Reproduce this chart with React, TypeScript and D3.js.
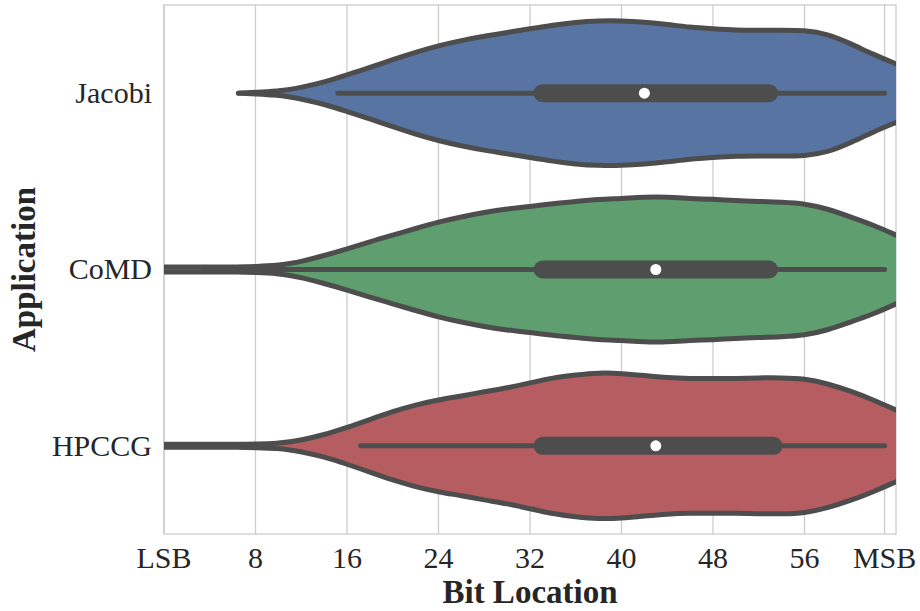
import React from "react";
import * as d3 from "d3";

// Applications shown on the vertical (categorical) axis, top to bottom
const applications = ["Jacobi", "CoMD", "HPCCG"];
const fills = ["#5874a3", "#5f9e6e", "#b55d60"];

// Bit positions where the kernel density estimates are sampled
const bitGrid = [0, 4, 6.5, 8, 10, 11, 12, 14, 16, 18, 20, 22, 24, 26, 28, 30, 32, 34, 36, 38, 40, 42, 44, 46, 48, 50, 52, 54, 56, 58, 60, 62, 64];

// Relative density (1 = widest violin) of flipped bit locations per application
const jacobiDensity = [null, null, 0, 0.01, 0.03, 0.05, 0.08, 0.15, 0.25, 0.35, 0.46, 0.56, 0.65, 0.72, 0.78, 0.83, 0.88, 0.93, 0.97, 0.99, 0.99, 0.97, 0.94, 0.9, 0.88, 0.86, 0.86, 0.86, 0.86, 0.81, 0.68, 0.53, 0.4];
const comdDensity = [0.035, 0.035, 0.035, 0.04, 0.055, 0.08, 0.11, 0.19, 0.28, 0.38, 0.47, 0.56, 0.65, 0.72, 0.78, 0.83, 0.86, 0.9, 0.93, 0.96, 0.97, 0.99, 0.99, 0.97, 0.96, 0.94, 0.93, 0.92, 0.9, 0.83, 0.72, 0.61, 0.47];
const hpccgDensity = [0.02, 0.02, 0.02, 0.025, 0.035, 0.055, 0.08, 0.15, 0.25, 0.36, 0.47, 0.56, 0.63, 0.68, 0.74, 0.79, 0.86, 0.93, 0.97, 1.0, 0.99, 0.96, 0.93, 0.92, 0.92, 0.92, 0.93, 0.93, 0.92, 0.85, 0.75, 0.63, 0.49];
const densities = [jacobiDensity, comdDensity, hpccgDensity];

// Box-plot summaries per application (bit index)
const whiskerLow = [15.2, 3.5, 17.2];
const quartile1 = [33.1, 33.1, 33.1];
const medians = [42.0, 43.0, 43.0];
const quartile3 = [52.9, 52.9, 53.3];
const whiskerHigh = [63, 63, 63];

// Horizontal axis ticks
const tickValues = [0, 8, 16, 24, 32, 40, 48, 56, 63];
const tickLabels = ["LSB", "8", "16", "24", "32", "40", "48", "56", "MSB"];

const WIDTH = 920;
const HEIGHT = 611;
const plot = { left: 164, right: 896, top: 5, bottom: 534 };
const SERIF = '"Liberation Serif", "Times New Roman", "DejaVu Serif", serif';
const INK = "#4d4d4d";
const GRID = "#cccccc";

type Sample = { b: number; d: number | null };

export default function App() {
  const x = d3.scaleLinear().domain([0, 64]).range([plot.left, plot.right]);
  const y = d3.scaleBand().domain(applications).range([plot.top, plot.bottom]).padding(0);
  const half = d3.scaleLinear().domain([0, 1]).range([0, y.bandwidth() * 0.415]);

  const violins = applications.map((app, i) => {
    const cy = (y(app) as number) + y.bandwidth() / 2;
    const pts: Sample[] = bitGrid.map((b, j) => ({ b, d: densities[i][j] as number | null }));
    const defined = (p: Sample) => p.d !== null;
    const curve = d3.curveBasis;
    const area = d3
      .area<Sample>()
      .defined(defined)
      .x((p) => x(p.b))
      .y0((p) => cy + half(p.d as number))
      .y1((p) => cy - half(p.d as number))
      .curve(curve);
    const upper = d3
      .line<Sample>()
      .defined(defined)
      .x((p) => x(p.b))
      .y((p) => cy - half(p.d as number))
      .curve(curve);
    const lower = d3
      .line<Sample>()
      .defined(defined)
      .x((p) => x(p.b))
      .y((p) => cy + half(p.d as number))
      .curve(curve);
    return { app, cy, fill: fills[i], area: area(pts) || "", upper: upper(pts) || "", lower: lower(pts) || "" };
  });

  return (
    <div style={{ position: "absolute", left: 0, top: 0 }}>
      <svg width={WIDTH} height={HEIGHT} style={{ display: "block", background: "#ffffff" }}>
        <defs>
          <clipPath id="plot-clip">
            <rect x={plot.left} y={plot.top} width={plot.right - plot.left} height={plot.bottom - plot.top} />
          </clipPath>
        </defs>

        {/* vertical grid */}
        {tickValues.map((t) => (
          <line key={`g${t}`} x1={x(t)} x2={x(t)} y1={plot.top} y2={plot.bottom} stroke={GRID} strokeWidth={1.3} />
        ))}
        {/* frame */}
        <rect
          x={plot.left}
          y={plot.top}
          width={plot.right - plot.left}
          height={plot.bottom - plot.top}
          fill="none"
          stroke={GRID}
          strokeWidth={1.3}
        />

        <g clipPath="url(#plot-clip)">
          {violins.map((v) => (
            <g key={v.app}>
              <path d={v.area} fill={v.fill} stroke="none" />
              <path d={v.upper} fill="none" stroke={INK} strokeWidth={5} strokeLinecap="round" strokeLinejoin="round" />
              <path d={v.lower} fill="none" stroke={INK} strokeWidth={5} strokeLinecap="round" strokeLinejoin="round" />
            </g>
          ))}
          {violins.map((v, i) => (
            <g key={`box-${v.app}`}>
              <line
                x1={x(whiskerLow[i])}
                x2={x(whiskerHigh[i])}
                y1={v.cy}
                y2={v.cy}
                stroke={INK}
                strokeWidth={5}
                strokeLinecap="round"
              />
              <line
                x1={x(quartile1[i])}
                x2={x(quartile3[i])}
                y1={v.cy}
                y2={v.cy}
                stroke={INK}
                strokeWidth={18}
                strokeLinecap="round"
              />
              <circle cx={x(medians[i])} cy={v.cy} r={5.5} fill="#ffffff" />
            </g>
          ))}
        </g>

        {/* category labels */}
        {violins.map((v) => (
          <text
            key={`l-${v.app}`}
            x={152}
            y={v.cy}
            dy="0.33em"
            textAnchor="end"
            fontFamily={SERIF}
            fontSize={30}
            fill="#262626"
          >
            {v.app}
          </text>
        ))}

        {/* bit ticks */}
        {tickValues.map((t, i) => (
          <text key={`t${t}`} x={x(t)} y={568} textAnchor="middle" fontFamily={SERIF} fontSize={30} fill="#262626">
            {tickLabels[i]}
          </text>
        ))}

        <text
          x={(plot.left + plot.right) / 2}
          y={603}
          textAnchor="middle"
          fontFamily={SERIF}
          fontSize={33}
          fontWeight="bold"
          fill="#262626"
        >
          Bit Location
        </text>
        <text
          transform={`translate(35, ${(plot.top + plot.bottom) / 2}) rotate(-90)`}
          textAnchor="middle"
          fontFamily={SERIF}
          fontSize={33}
          fontWeight="bold"
          fill="#262626"
        >
          Application
        </text>
      </svg>
    </div>
  );
}
